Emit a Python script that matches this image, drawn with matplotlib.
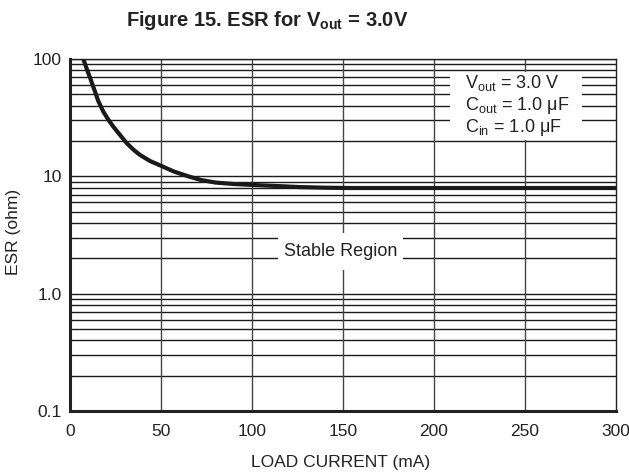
import matplotlib
matplotlib.use("Agg")
import matplotlib.pyplot as plt
from matplotlib.patches import Rectangle

# Data
load_current = [7.3, 9.5, 11.5, 13.5, 15.5, 18.3, 21, 23.8, 27.5, 31.1, 35, 38.5, 44, 49.5, 57, 65, 72, 80, 90, 100, 115, 126, 140, 154, 180, 220, 260, 300]
esr = [100, 80, 66, 54, 44, 35.6, 30.5, 26.5, 22.5, 19.2, 16.8, 15.2, 13.5, 12.4, 11.0, 10.0, 9.3, 8.85, 8.6, 8.45, 8.25, 8.1, 8.0, 7.95, 7.95, 7.95, 7.95, 7.95]

x_ticks = [0, 50, 100, 150, 200, 250, 300]
y_ticks = [0.1, 1.0, 10, 100]
y_tick_labels = ["0.1", "1.0", "10", "100"]

title = "Figure 15. ESR for V$_{\\mathbf{out}}$ = 3.0V"
xlabel = "LOAD CURRENT (mA)"
ylabel = "ESR (ohm)"
legend_lines = ["V$_{\\mathrm{out}}$ = 3.0 V", "C$_{\\mathrm{out}}$ = 1.0 μF", "C$_{\\mathrm{in}}$ = 1.0 μF"]
region_label = "Stable Region"

plt.rcParams['font.family'] = ['Liberation Sans', 'DejaVu Sans']
plt.rcParams['mathtext.fontset'] = 'custom'
plt.rcParams['mathtext.rm'] = 'Liberation Sans'
plt.rcParams['mathtext.bf'] = 'Liberation Sans:bold'
plt.rcParams['mathtext.it'] = 'Liberation Sans:italic'

fig = plt.figure(figsize=(6.29, 4.74), dpi=100)
ax = fig.add_axes([70/629, 1-411/474, 546/629, 352/474])
ax.set_yscale('log')
ax.set_xlim(0, 300)
ax.set_ylim(0.1, 100)

# Grid lines
minor_vals = [m * 10.0**e for e in (-1, 0, 1) for m in range(1, 10)] + [100]
for v in minor_vals:
    ax.axhline(v, color='#1a1a1a', lw=1.0, zorder=1)
for xv in x_ticks[1:-1]:
    ax.axvline(xv, color='#444444', lw=1.0, zorder=1)

ax.plot(load_current, esr, color='#1a1a1a', lw=3.0, solid_capstyle='butt', zorder=3)

ax.set_xticks(x_ticks)
ax.set_xticklabels([str(t) for t in x_ticks])
ax.set_yticks(y_ticks)
ax.set_yticklabels(y_tick_labels)
ax.yaxis.set_minor_locator(matplotlib.ticker.NullLocator())
ax.tick_params(axis='both', length=0, labelsize=12.5, colors='#222222')
ax.tick_params(axis='x', pad=9)
ax.tick_params(axis='y', pad=6)

for s in ['left', 'bottom']:
    ax.spines[s].set_linewidth(2.2)
    ax.spines[s].set_color('#222222')
for s in ['right', 'top']:
    ax.spines[s].set_linewidth(1.0)
    ax.spines[s].set_color('#222222')

# white boxes behind annotations
ax.add_patch(Rectangle((0.381, 0.4006), 0.229, 0.105, transform=ax.transAxes,
                       facecolor='white', edgecolor='none', zorder=2))
ax.text(0.4954, 0.453, region_label, transform=ax.transAxes, fontsize=13,
        ha='center', va='center', color='#222222', zorder=4)

ax.add_patch(Rectangle((0.696, 0.770), 0.242, 0.193, transform=ax.transAxes,
                       facecolor='white', edgecolor='none', zorder=2))
ax.text((465-70)/546, (411-106)/352, "\n".join(legend_lines), transform=ax.transAxes,
        fontsize=13, ha='left', va='center', color='#222222', linespacing=1.1, zorder=4)

fig.text(267/629, 1-20/474, title, fontsize=14.5, fontweight='bold', ha='center', va='center',
         color='#222222')
fig.text(341/629, 1-462/474, xlabel, fontsize=12.5, ha='center', va='center', color='#222222')
fig.text(14/629, 1-232/474, ylabel, fontsize=12.5, ha='center', va='center', rotation=90, color='#222222')

fig.savefig('out.png', dpi=100)
